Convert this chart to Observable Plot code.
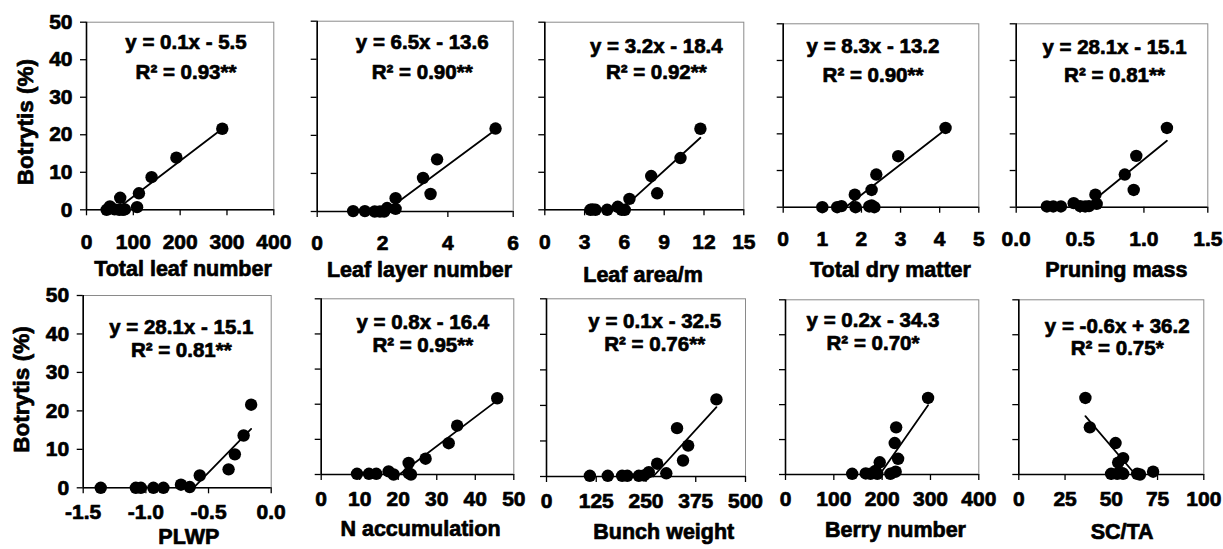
<!DOCTYPE html>
<html><head><meta charset="utf-8">
<script src="https://cdn.jsdelivr.net/npm/d3@7"></script>
<script src="https://cdn.jsdelivr.net/npm/@observablehq/plot@0.6"></script>
<style>
html,body{margin:0;padding:0;background:#fff;}
#chart{position:relative;width:1223px;height:549px;overflow:hidden;background:#fff;}
#chart svg{position:absolute;left:0;top:0;}
</style></head><body><div id="chart"></div>
<script>
// ---- data (Botrytis % vs. each variable) ----
const leafNumberX = [43, 50, 60, 70, 72, 78, 82, 108, 112, 139, 192, 290];
const leafNumberY = [0, 0.9, 0.1, 0, 3.2, 0, 0.1, 0.7, 4.4, 8.7, 13.9, 21.6];
const leafLayerX = [1.10, 1.46, 1.76, 1.92, 2.05, 2.14, 2.40, 2.40, 3.24, 3.47, 3.67, 5.46];
const leafLayerY = [0.1, 0.1, 0, 0, 0, 0.9, 0.7, 3.5, 8.8, 4.6, 13.7, 21.8];
const leafAreaX = [3.44, 3.6, 3.82, 4.7, 5.5, 5.8, 6.03, 6.38, 8.02, 8.47, 10.23, 11.73];
const leafAreaY = [0, 0.1, 0, 0, 0.8, 0, 0, 2.9, 9.0, 4.4, 13.8, 21.6];
const dryMatterX = [1.0, 1.38, 1.49, 1.83, 1.85, 2.2, 2.26, 2.26, 2.33, 2.38, 2.94, 4.15];
const dryMatterY = [0, 0, 0.3, 3.4, 0, 0.2, 0.5, 4.7, 0, 8.9, 13.9, 21.6];
const pruningX = [0.24, 0.29, 0.35, 0.45, 0.50, 0.54, 0.57, 0.62, 0.63, 0.85, 0.92, 0.94, 1.18];
const pruningY = [0.2, 0.2, 0.2, 1.1, 0.3, 0.2, 0.3, 3.4, 0.9, 8.9, 4.7, 14.0, 21.6];
const plwpX = [-1.36, -1.08, -1.04, -0.94, -0.86, -0.72, -0.65, -0.57, -0.34, -0.29, -0.22, -0.16];
const plwpY = [0, 0, 0, 0, 0, 0.8, 0.2, 3.2, 4.8, 8.7, 13.6, 21.6];
const nAccX = [9.3, 12.4, 14.3, 17.5, 18.8, 22.7, 23.3, 22.7, 27.1, 33.1, 35.3, 45.7];
const nAccY = [0.2, 0.2, 0.2, 0.9, 0, 0.4, 0, 3.3, 4.5, 8.9, 13.9, 21.7];
const bunchX = [109, 154, 190, 203, 232, 245, 257, 278, 301, 328, 343, 356, 427];
const bunchY = [0.2, 0.2, 0.2, 0.2, 0.2, 0.3, 1.2, 3.6, 0.9, 13.6, 4.5, 8.7, 21.7];
const berryX = [138, 166, 176, 186, 190, 195, 217, 226, 228, 229, 233, 295];
const berryY = [0.2, 0.3, 0.2, 1.0, 0.2, 3.5, 0.2, 9.0, 0.8, 13.5, 4.5, 21.9];
const sctaX = [36.0, 38.4, 49.9, 52.3, 53.2, 53.7, 55.9, 56.4, 56.4, 64.0, 65.5, 72.6];
const sctaY = [21.9, 13.5, 0.2, 9.0, 0.2, 3.4, 0.4, 4.7, 0.2, 0.2, 0, 0.8];

// trend-line end points
const fitsX = [[63, 290], [2.08, 5.46], [5.75, 11.73], [1.59, 4.15], [0.54, 1.18],
               [-0.62, -0.16], [20.3, 45.7], [268, 427], [195, 295], [36, 63]];
const fitsY = [[0, 21.6], [0, 21.5], [0, 19.2], [0, 21.2], [0, 18.1],
               [0, 15.3], [0, 21.1], [0, 19.5], [0, 19.8], [16.7, 0]];

const titles = ["Total leaf number", "Leaf layer number", "Leaf area/m", "Total dry matter", "Pruning mass",
                "PLWP", "N accumulation", "Bunch weight", "Berry number", "SC/TA"];
const equations = ["y = 0.1x - 5.5", "y = 6.5x - 13.6", "y = 3.2x - 18.4", "y = 8.3x - 13.2", "y = 28.1x - 15.1",
                   "y = 28.1x - 15.1", "y = 0.8x - 16.4", "y = 0.1x - 32.5", "y = 0.2x - 34.3", "y = -0.6x + 36.2"];
const r2Labels = ["R² = 0.93**", "R² = 0.90**", "R² = 0.92**", "R² = 0.90**", "R² = 0.81**",
                  "R² = 0.81**", "R² = 0.95**", "R² = 0.76**", "R² = 0.70*", "R² = 0.75*"];
const xTicks = [[0, 100, 200, 300, 400], [0, 2, 4, 6], [0, 3, 6, 9, 12, 15], [0, 1, 2, 3, 4, 5], [0, 0.5, 1, 1.5],
                [-1.5, -1, -0.5, 0], [0, 10, 20, 30, 40, 50], [0, 125, 250, 375, 500], [0, 100, 200, 300, 400], [0, 25, 50, 75, 100]];
const xTickLabels = [["0", "100", "200", "300", "400"], ["0", "2", "4", "6"], ["0", "3", "6", "9", "12", "15"],
                     ["0", "1", "2", "3", "4", "5"], ["0.0", "0.5", "1.0", "1.5"],
                     ["-1.5", "-1.0", "-0.5", "0.0"], ["0", "10", "20", "30", "40", "50"],
                     ["0", "125", "250", "375", "500"], ["0", "100", "200", "300", "400"], ["0", "25", "50", "75", "100"]];
const yTicks = [0, 10, 20, 30, 40, 50];
const yTickLabels = ["0", "10", "20", "30", "40", "50"];
const yTitle = "Botrytis (%)";

// ---- layout (pixel geometry of each panel) ----
const W = 1223, H = 549;
const frames = [[86, 21.7, 273.3, 209.3], [316.7, 20.7, 512.7, 211], [544.3, 21.7, 743.3, 209.3],
                [782.7, 23.3, 978.3, 206.7], [1015.7, 23.3, 1207.3, 206.7],
                [82.7, 295, 270.7, 487.3], [320.7, 298.3, 513.3, 474], [546, 298.3, 745, 476],
                [785, 299.3, 978.3, 474], [1018.3, 299.3, 1203.3, 474]];
const eqPos = [[185.5, 41.5, 71.5], [421.7, 41.5, 71.5], [655.8, 45.5, 71.5], [872.5, 45.5, 75], [1114, 46.5, 75],
               [180.8, 327, 350], [422.3, 322, 345], [654.2, 320.5, 344], [872.5, 320, 343], [1116.7, 326, 347.5]];
const titlePos = [[182.5, 268.5], [419, 270], [642.5, 275], [890, 270], [1115.8, 270],
                  [188.3, 536.7], [420, 528.3], [663.3, 531.7], [895, 530], [1121.7, 531.7]];
const yTitlePos = [[25, 121.7], [21.7, 389]];

const seriesX = [leafNumberX, leafLayerX, leafAreaX, dryMatterX, pruningX, plwpX, nAccX, bunchX, berryX, sctaX];
const seriesY = [leafNumberY, leafLayerY, leafAreaY, dryMatterY, pruningY, plwpY, nAccY, bunchY, berryY, sctaY];

const font = "'Liberation Sans', Arial, Helvetica, sans-serif";
const chart = document.getElementById("chart");
const heavy = {fontWeight: "bold", fill: "#000", stroke: "#000", strokeWidth: 0.7, paintOrder: "stroke"};

for (let i = 0; i < 10; i++) {
  const [L, T, R, B] = frames[i];
  const row = i < 5 ? 0 : 1;
  const firstCol = i % 5 === 0;
  const ticks = xTicks[i];
  const labels = xTickLabels[i];
  const pts = seriesX[i].map((x, k) => ({x, y: seriesY[i][k]}));
  const fit = fitsX[i].map((x, k) => ({x, y: fitsY[i][k]}));
  const at = (ax, ay) => ({frameAnchor: "top-left", dx: ax - L, dy: ay - T, textAnchor: "middle", lineAnchor: "middle", ...heavy});
  const marks = [
    Plot.frame({stroke: "#8a8a8a", strokeWidth: 1}),
    Plot.axisX({ticks, tickFormat: () => "", tickSize: 6, label: null, strokeWidth: 1.3}),
    Plot.axisY({ticks: yTicks, tickFormat: () => "", tickSize: 6, label: null, strokeWidth: 1.3}),
    Plot.text(ticks, {x: (d) => d, text: (d, k) => labels[k], frameAnchor: "bottom", dy: row === 0 ? 32 : 24.5,
                      lineAnchor: "middle", textAnchor: "middle", fontSize: 21, ...heavy}),
    Plot.ruleY([0], {stroke: "#000", strokeWidth: 1.6}),
    Plot.ruleX([ticks[0]], {stroke: "#000", strokeWidth: 1.6}),
    Plot.line(fit, {x: "x", y: "y", stroke: "#000", strokeWidth: 1.8}),
    Plot.dot(pts, {x: "x", y: "y", r: 6.2, fill: "#000", stroke: null}),
    Plot.text([equations[i]], {...at(eqPos[i][0], eqPos[i][1]), fontSize: 20.5}),
    Plot.text([r2Labels[i]], {...at(eqPos[i][0], eqPos[i][2]), fontSize: 20.5}),
    Plot.text([titles[i]], {...at(titlePos[i][0], titlePos[i][1]), fontSize: 21.5})
  ];
  if (firstCol) {
    const [tx, ty] = yTitlePos[row];
    marks.push(Plot.text(yTicks, {y: (d) => d, text: (d, k) => yTickLabels[k], frameAnchor: "left", dx: -14,
                                  textAnchor: "end", lineAnchor: "middle", fontSize: 21, ...heavy}));
    marks.push(Plot.text([yTitle], {...at(tx, ty), rotate: -90, fontSize: 22.5}));
  }
  const svg = Plot.plot({
    width: W, height: H,
    marginLeft: L, marginTop: T, marginRight: W - R, marginBottom: H - B,
    x: {domain: [ticks[0], ticks[ticks.length - 1]]},
    y: {domain: [0, 50]},
    style: {background: "transparent", fontFamily: font, fontWeight: "bold", fontSize: "21px", color: "#000", overflow: "visible"},
    marks
  });
  chart.appendChild(svg);
}
</script>
</body></html>
